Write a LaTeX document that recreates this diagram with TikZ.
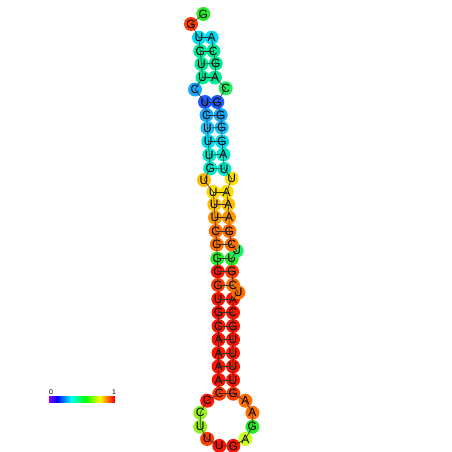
\documentclass[tikz,border=0pt]{standalone}
\usepackage{fontspec}
\setmainfont{Liberation Sans}
\usepackage{tikz}
\usetikzlibrary{positioning, calc}
\definecolor{nred}{RGB}{255,20,0}
\definecolor{nored}{RGB}{255,60,0}
\definecolor{norange}{RGB}{255,110,0}
\definecolor{namber}{RGB}{255,150,0}
\definecolor{nyelo}{RGB}{255,190,0}
\definecolor{nyel}{RGB}{255,220,0}
\definecolor{nlime}{RGB}{150,240,30}
\definecolor{nygreen}{RGB}{200,255,30}
\definecolor{ngreen}{RGB}{40,235,40}
\definecolor{nspring}{RGB}{30,240,100}
\definecolor{nmint}{RGB}{0,235,150}
\definecolor{nteal}{RGB}{0,230,200}
\definecolor{ncyan}{RGB}{0,220,240}
\definecolor{nskytwo}{RGB}{20,195,255}
\definecolor{nsky}{RGB}{20,170,255}
\definecolor{nblue}{RGB}{30,90,255}

\begin{document}
\begin{tikzpicture}[
  x=1pt, y=-1pt,
  nt/.style={circle, minimum size=14pt, inner sep=0pt,
             font=\fontsize{12}{12}\selectfont},
  bb/.style={black!80, line width=0.6pt},
  bp/.style={black!80, line width=0.6pt},
  tick/.style={font=\fontsize{7}{7}\selectfont}
]
  \path[fill=white, use as bounding box] (0,0) rectangle (452,452);

  % 5' strand
  \node[nt, fill=ngreen]  (n1)  at (203.3,14)   {G};
  \node[nt, fill=nored]   (n2)  at (191,24)     {G};
  \node[nt, fill=ncyan]   (n3)  at (199,37.7)   {U};
  \node[nt, fill=nmint]   (n4)  at (200.2,51)   {G};
  \node[nt, fill=nmint]   (n5)  at (201.5,64)   {U};
  \node[nt, fill=nmint]   (n6)  at (202.5,77.5) {U};
  \node[nt, fill=nsky]    (n7)  at (195,89.5)   {C};
  \node[nt, fill=nblue]   (n8)  at (205,102)    {U};
  \node[nt, fill=nsky]    (n9)  at (206.5,115)  {C};
  \node[nt, fill=nskytwo] (n10) at (207.5,128)  {U};
  \node[nt, fill=ncyan]   (n11) at (208.3,141.5) {U};
  \node[nt, fill=nteal]   (n12) at (209.3,155)  {U};
  \node[nt, fill=nteal]   (n13) at (210.2,168.5) {G};
  \node[nt, fill=nyelo]   (n14) at (204,180)    {U};
  \node[nt, fill=nyel]    (n15) at (213.3,192)  {U};
  \node[nt, fill=nyelo]   (n16) at (214.3,204.5) {U};
  \node[nt, fill=namber]  (n17) at (215,217.5)  {U};
  \node[nt, fill=norange] (n18) at (215.8,231)  {C};
  \node[nt, fill=norange] (n19) at (216.8,244.5) {G};
  \node[nt, fill=ngreen]  (n20) at (217.3,258.5) {G};
  \node[nt, fill=nred]    (n21) at (217.8,271.5) {C};
  \node[nt, fill=nored]   (n22) at (218,285)    {G};
  \node[nt, fill=nred]    (n23) at (218.3,299)  {U};
  \node[nt, fill=nred]    (n24) at (218.5,312.5) {G};
  \node[nt, fill=nred]    (n25) at (218.5,326)  {C};
  \node[nt, fill=nred]    (n26) at (218.5,339.5) {A};
  \node[nt, fill=nred]    (n27) at (218.5,353)  {A};
  \node[nt, fill=nred]    (n28) at (218.5,366.5) {A};
  \node[nt, fill=nred]    (n29) at (218.7,380)  {A};
  \node[nt, fill=nored]   (n30) at (219.3,393.7) {C};
  % hairpin loop
  \node[nt, fill=nred]    (n31) at (207.2,400.7) {C};
  \node[nt, fill=nlime]   (n32) at (200.2,412.8) {C};
  \node[nt, fill=nlime]   (n33) at (200.2,426.8) {U};
  \node[nt, fill=nored]   (n34) at (207.2,438.9) {U};
  \node[nt, fill=nred]    (n35) at (219.3,445.9) {U};
  \node[nt, fill=nred]    (n36) at (233.3,445.9) {G};
  \node[nt, fill=nygreen] (n37) at (245.4,438.9) {A};
  \node[nt, fill=ngreen]  (n38) at (252.4,426.8) {G};
  \node[nt, fill=norange] (n39) at (252.4,412.8) {A};
  \node[nt, fill=norange] (n40) at (245.4,400.7) {A};
  % 3' strand
  \node[nt, fill=nored]   (n41) at (233.3,393.7) {G};
  \node[nt, fill=nred]    (n42) at (233,380)    {U};
  \node[nt, fill=nred]    (n43) at (233,366.5)  {U};
  \node[nt, fill=nred]    (n44) at (233,353)    {U};
  \node[nt, fill=nred]    (n45) at (233,339.5)  {U};
  \node[nt, fill=nred]    (n46) at (233,326)    {G};
  \node[nt, fill=nred]    (n47) at (233,312.5)  {C};
  \node[nt, fill=nred]    (n48) at (233,299)    {A};
  \node[nt, fill=norange] (n49) at (238.3,292.5) {U};
  \node[nt, fill=norange] (n50) at (233,285)    {C};
  \node[nt, fill=nored]   (n51) at (232,271.5)  {G};
  \node[nt, fill=ngreen]  (n52) at (231.7,258.5) {U};
  \node[nt, fill=nspring] (n53) at (236.7,250.7) {U};
  \node[nt, fill=norange] (n54) at (231.7,244.5) {C};
  \node[nt, fill=norange] (n55) at (229.3,231)  {G};
  \node[nt, fill=namber]  (n56) at (229,217.5)  {A};
  \node[nt, fill=nyelo]   (n57) at (228.3,204.5) {A};
  \node[nt, fill=nyel]    (n58) at (226.7,192)  {A};
  \node[nt, fill=nyel]    (n59) at (231.7,178.5) {U};
  \node[nt, fill=nteal]   (n60) at (224.3,169)  {U};
  \node[nt, fill=nteal]   (n61) at (223.3,154.5) {A};
  \node[nt, fill=ncyan]   (n62) at (222,141.5)  {G};
  \node[nt, fill=nskytwo] (n63) at (221.7,127.5) {G};
  \node[nt, fill=nsky]    (n64) at (220.7,115)  {G};
  \node[nt, fill=nblue]   (n65) at (217.3,102)  {G};
  \node[nt, fill=nspring] (n66) at (225.7,88.3) {C};
  \node[nt, fill=nmint]   (n67) at (215,77.5)   {A};
  \node[nt, fill=nmint]   (n68) at (215.7,63.5) {G};
  \node[nt, fill=nmint]   (n69) at (213.3,51)   {C};
  \node[nt, fill=ncyan]   (n70) at (211.7,37.7) {A};

  % backbone
  \draw[bb] (n1.center) -- (n2.center) -- (n3.center) -- (n4.center) -- (n5.center)
    -- (n6.center) -- (n7.center) -- (n8.center) -- (n9.center) -- (n10.center)
    -- (n11.center) -- (n12.center) -- (n13.center) -- (n14.center) -- (n15.center)
    -- (n16.center) -- (n17.center) -- (n18.center) -- (n19.center) -- (n20.center)
    -- (n21.center) -- (n22.center) -- (n23.center) -- (n24.center) -- (n25.center)
    -- (n26.center) -- (n27.center) -- (n28.center) -- (n29.center) -- (n30.center)
    -- (n31.center) -- (n32.center) -- (n33.center) -- (n34.center) -- (n35.center)
    -- (n36.center) -- (n37.center) -- (n38.center) -- (n39.center) -- (n40.center)
    -- (n41.center) -- (n42.center) -- (n43.center) -- (n44.center) -- (n45.center)
    -- (n46.center) -- (n47.center) -- (n48.center) -- (n49.center) -- (n50.center)
    -- (n51.center) -- (n52.center) -- (n53.center) -- (n54.center) -- (n55.center)
    -- (n56.center) -- (n57.center) -- (n58.center) -- (n59.center) -- (n60.center)
    -- (n61.center) -- (n62.center) -- (n63.center) -- (n64.center) -- (n65.center)
    -- (n66.center) -- (n67.center) -- (n68.center) -- (n69.center) -- (n70.center);

  % base pairs
  \draw[bp] (n3.center)--(n70.center);  \draw[bp] (n4.center)--(n69.center);
  \draw[bp] (n5.center)--(n68.center);  \draw[bp] (n6.center)--(n67.center);
  \draw[bp] (n8.center)--(n65.center);  \draw[bp] (n9.center)--(n64.center);
  \draw[bp] (n10.center)--(n63.center); \draw[bp] (n11.center)--(n62.center);
  \draw[bp] (n12.center)--(n61.center); \draw[bp] (n13.center)--(n60.center);
  \draw[bp] (n15.center)--(n58.center); \draw[bp] (n16.center)--(n57.center);
  \draw[bp] (n17.center)--(n56.center); \draw[bp] (n18.center)--(n55.center);
  \draw[bp] (n19.center)--(n54.center); \draw[bp] (n20.center)--(n52.center);
  \draw[bp] (n21.center)--(n51.center); \draw[bp] (n22.center)--(n50.center);
  \draw[bp] (n23.center)--(n48.center); \draw[bp] (n24.center)--(n47.center);
  \draw[bp] (n25.center)--(n46.center); \draw[bp] (n26.center)--(n45.center);
  \draw[bp] (n27.center)--(n44.center); \draw[bp] (n28.center)--(n43.center);
  \draw[bp] (n29.center)--(n42.center); \draw[bp] (n30.center)--(n41.center);

  % colour scale
  \foreach \i in {0,...,65} {
    \pgfmathsetmacro\hue{0.76*(1-\i/65)}
    \definecolor{barc}{hsb}{\hue,1,1}
    \fill[barc] (49+\i,396) rectangle (50.2+\i,402.5);
  }
  \node[tick] (lo) at (51,392.5) {0};
  \node[tick] (hi) at (114,392.5) {1};
\end{tikzpicture}
\end{document}
